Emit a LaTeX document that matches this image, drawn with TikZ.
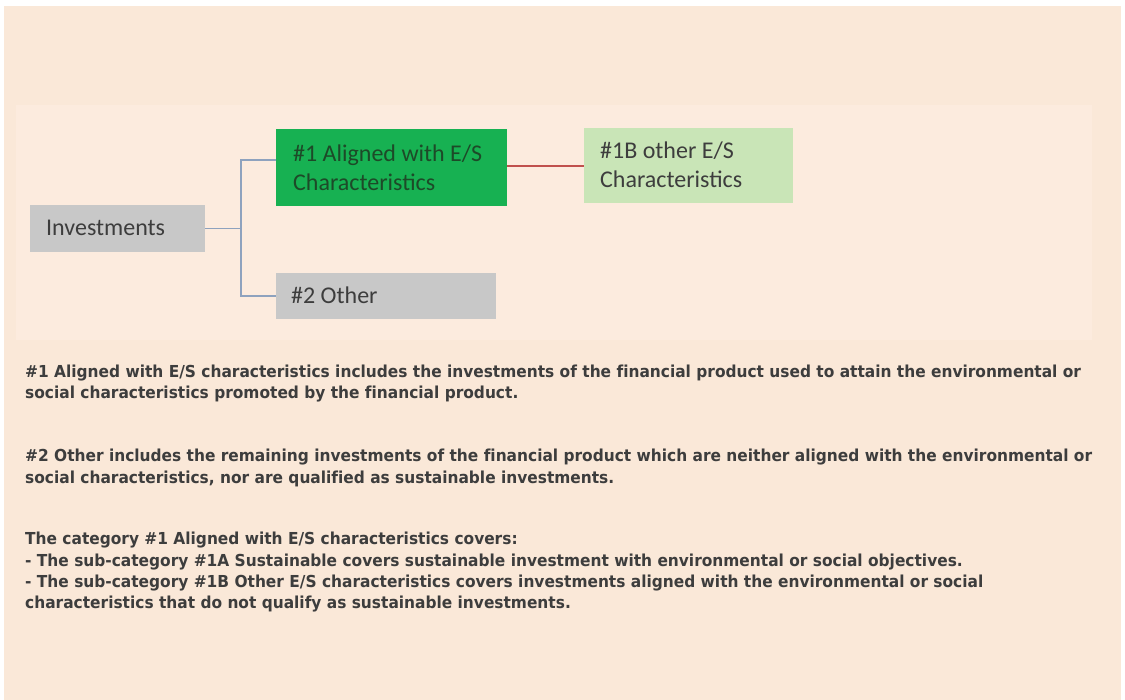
\documentclass[tikz,border=0pt]{standalone}
\usepackage{fontspec}
\setmainfont{Carlito}
\newfontfamily\bodyfont{DejaVu Sans}[FakeStretch=0.934, Ligatures=NoCommon]
\definecolor{bgouter}{HTML}{FAE8D8}
\definecolor{bginner}{HTML}{FCEBDE}
\definecolor{boxgray}{HTML}{C8C8C8}
\definecolor{boxgreen}{HTML}{17B152}
\definecolor{boxlight}{HTML}{C9E5B7}
\definecolor{txtgray}{HTML}{3D3D3D}
\definecolor{txtgreen}{HTML}{1D4A28}
\definecolor{linkblue}{HTML}{8EA2BE}
\definecolor{linkred}{HTML}{C0504D}
\tikzset{
  boxtxt/.style={font=\fontsize{24}{29.5}\selectfont, text=txtgray, align=left, anchor=base west, inner sep=0pt},
  bodyline/.style={font=\bodyfont\bfseries\fontsize{16.5}{21.5}\selectfont, text=txtgray, anchor=base west, inner sep=0pt},
  link/.style={line width=1.2pt, draw=linkblue},
}
\begin{document}
\begin{tikzpicture}[x=1pt,y=-1pt]
\useasboundingbox (0,0) rectangle (1125,700);
\fill[white] (0,0) rectangle (1125,700);
\fill[bgouter] (4,6) rectangle (1121,700);
\fill[bginner] (16,105) rectangle (1092,340);
% boxes
\node[fill=boxgray, inner sep=0pt, anchor=north west, minimum width=175pt, minimum height=47pt] (inv) at (30,205) {};
\node[fill=boxgreen, inner sep=0pt, anchor=north west, minimum width=231pt, minimum height=77pt] (al) at (276,129) {};
\node[fill=boxlight, inner sep=0pt, anchor=north west, minimum width=209pt, minimum height=75pt] (ob) at (584,128) {};
\node[fill=boxgray, inner sep=0pt, anchor=north west, minimum width=220pt, minimum height=46pt] (ot) at (276,273) {};
% box texts (anchor base = baseline of last line)
\node[boxtxt] (invt) at (46,236) {Investments};
\node[boxtxt, text=txtgreen] (alt) at (293,191) {\#1 Aligned with E/S\\Characteristics};
\node[boxtxt] (obt) at (600,188) {\#1B other E/S\\Characteristics};
\node[boxtxt] (ott) at (291,304) {\#2 Other};
% connectors
\coordinate (j) at (241,0);
\draw[link] (inv.east) -- (inv.east -| j) coordinate (jm);
\draw[link] (al.west |- 0,160) -| (jm) |- (ot.west |- 0,296);
\draw[line width=1.2pt, draw=linkred] (al.east |- 0,166) -- (ob.west |- 0,166);
% paragraphs
\node[bodyline] (p1a) at (25,378) {\#1 Aligned with E/S characteristics includes the investments of the financial product used to attain the environmental or};
\node[bodyline] (p1b) at (25,399) {social characteristics promoted by the financial product.};
\node[bodyline] (p2a) at (25,462) {\#2 Other includes the remaining investments of the financial product which are neither aligned with the environmental or};
\node[bodyline] (p2b) at (25,483) {social characteristics, nor are qualified as sustainable investments.};
\node[bodyline] (p3a) at (25,544) {The category \#1 Aligned with E/S characteristics covers:};
\node[bodyline] (p3b) at (25,566) {- The sub-category \#1A Sustainable covers sustainable investment with environmental or social objectives.};
\node[bodyline] (p3c) at (25,587) {- The sub-category \#1B Other E/S characteristics covers investments aligned with the environmental or social};
\node[bodyline] (p3d) at (25,608) {characteristics that do not qualify as sustainable investments.};
\end{tikzpicture}
\end{document}
